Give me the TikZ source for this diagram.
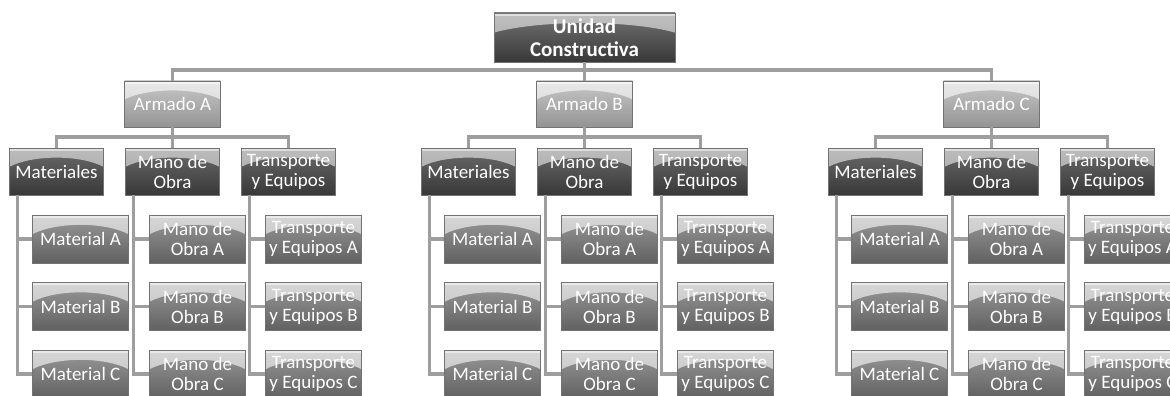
\documentclass[tikz,border=0pt]{standalone}
\usepackage{fontspec}
\setmainfont{Carlito}
\usetikzlibrary{calc}
\tikzset{
  gloss/.style={path picture={
    \fill[white,opacity=#1] let \p1=(path picture bounding box.north west),
      \p2=(path picture bounding box.south east) in
      (\x1,\y1) -- (\x1,{\y1+0.40*(\y2-\y1)})
      .. controls ({\x1+0.25*(\x2-\x1)},{\y1+0.14*(\y2-\y1)}) and ({\x1+0.75*(\x2-\x1)},{\y1+0.14*(\y2-\y1)})
      .. (\x2,{\y1+0.40*(\y2-\y1)}) -- (\x2,\y1) -- cycle;
    \fill[white,opacity=0.5] let \p1=(path picture bounding box.north west),
      \p2=(path picture bounding box.south east) in
      (\x1,\y1) rectangle (\x2,{\y1+0.06*(\y2-\y1)});
  }},
  boxbase/.style={rectangle, inner sep=0pt, align=center, text=white,
    draw=black!55, line width=0.6pt, font=\fontsize{19}{20}\selectfont},
  toplvl/.style={boxbase, minimum width=181pt, minimum height=49pt,
    top color=black!55, bottom color=black!78, gloss=0.55,
    font=\fontsize{21}{23}\selectfont\bfseries},
  armlvl/.style={boxbase, minimum width=96pt, minimum height=46pt,
    top color=black!22, bottom color=black!42, gloss=0.6},
  catlvl/.style={boxbase, minimum width=94pt, minimum height=47pt,
    top color=black!58, bottom color=black!78, gloss=0.55},
  itemlvl/.style={boxbase, minimum width=96pt, minimum height=48pt,
    top color=black!40, bottom color=black!62, gloss=0.6},
  conn/.style={draw=black!38, line width=3.2pt}
}
\begin{document}
\begin{tikzpicture}[x=1pt,y=-1pt]
\useasboundingbox (0,0) rectangle (1170,396);
\clip (0,0) rectangle (1170,396);
\fill[white] (0,0) rectangle (1170,396);
\coordinate (bus0) at (584.5,70);
% connectors first
\foreach \g/\o in {A/0,B/412,C/819} {
  \coordinate (bus\g) at (172.5+\o,137);
}
\node[toplvl] (top) at (584.5,37.5) {Unidad\\Constructiva};
\foreach \g/\o in {A/0,B/412,C/819} {
  \node[armlvl] (arm\g) at (172.5+\o,104) {Armado \g};
  \node[catlvl] (mat\g) at (56.5+\o,171.5) {Materiales};
  \node[catlvl] (mo\g) at (172.5+\o,171.5) {Mano de\\Obra};
  \node[catlvl] (te\g) at (288.5+\o,171.5) {Transporte\\y Equipos};
  \foreach \k/\y in {A/239,B/306.5,C/374} {
    \node[itemlvl] (mat\g\k) at (80.5+\o,\y) {Material \k};
    \node[itemlvl] (mo\g\k) at (197.5+\o,\y) {Mano de\\Obra \k};
    \node[itemlvl] (te\g\k) at (313.5+\o,\y) {Transporte\\y Equipos \k};
  }
}
\begin{scope}[on background layer/.try]
\end{scope}
% connectors
\foreach \g in {A,B,C} {
  \draw[conn] (top.south) -- (bus0) -| (arm\g.north);
  \draw[conn] (arm\g.south) -- (bus\g) -| (mat\g.north);
  \draw[conn] (arm\g.south) -- (bus\g) -| (mo\g.north);
  \draw[conn] (arm\g.south) -- (bus\g) -| (te\g.north);
  \foreach \k in {A,B,C} {
    \draw[conn] ([xshift=8pt]mat\g.south west) |- (mat\g\k.west);
    \draw[conn] ([xshift=8pt]mo\g.south west) |- (mo\g\k.west);
    \draw[conn] ([xshift=8pt]te\g.south west) |- (te\g\k.west);
  }
}
\end{tikzpicture}
\end{document}
